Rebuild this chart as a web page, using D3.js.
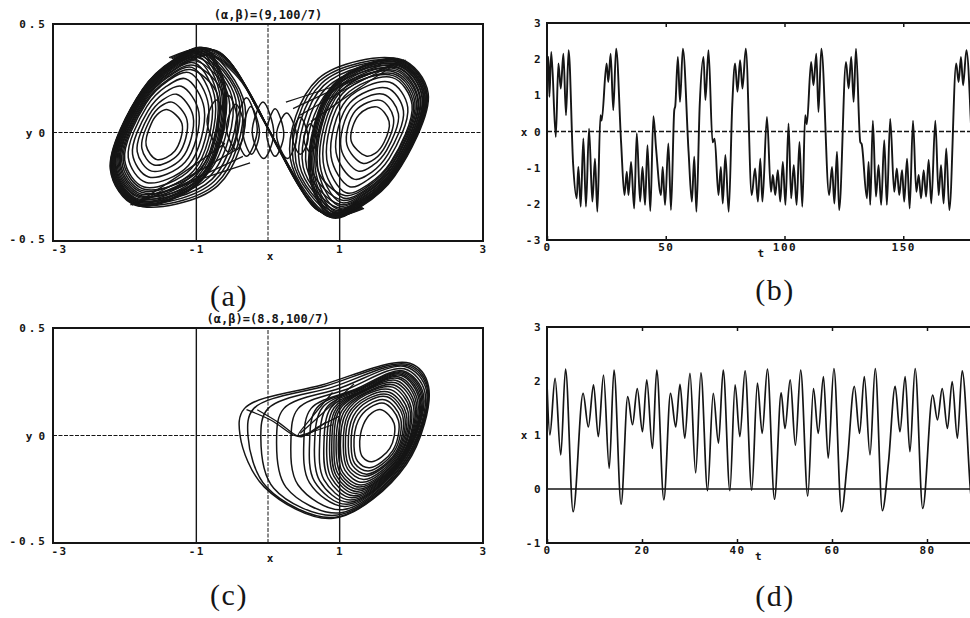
<!DOCTYPE html>
<html>
<head>
<meta charset="utf-8">
<script src="https://cdn.jsdelivr.net/npm/d3@7"></script>
<style>
  body { margin: 0; background: #fff; }
  svg { display: block; }
</style>
</head>
<body>
<svg id="fig" width="970" height="618"></svg>
<script>
// ---- text ----
const titleA = "(\u03b1,\u03b2)=(9,100/7)";
const titleC = "(\u03b1,\u03b2)=(8.8,100/7)";
const panelNames = ["(a)", "(b)", "(c)", "(d)"];

// ---- axis ticks ----
const phaseTicksX = [-3, -1, 1, 3];
const phaseTicksY = [0.5, 0, -0.5];
const phaseGridX = [-1, 0, 1];
const seriesBTicksY = [3, 2, 1, 0, -1, -2, -3];
const seriesBTicksT = [0, 50, 100, 150];
const seriesDTicksY = [3, 2, 1, 0, -1];
const seriesDTicksT = [0, 20, 40, 60, 80];

// ---- (b) x(t), local extrema ----
const tB = [0, 0.6, 1.0, 1.8, 3.7, 4.8, 5.8, 6.9, 8.0, 9.1, 11.0, 12.5, 13.2, 14.2, 15.3, 16.4, 17.7, 19.1, 20.2, 21.2,
  22.5, 23.0, 25.1, 25.8, 26.8, 27.9, 29.1, 31.2, 32.6, 33.6, 34.3, 35.4, 36.7, 37.8, 39.2, 40.2, 41.3, 42.3, 43.5, 44.8,
  45.9, 48.0, 48.7, 49.7, 51.1, 52.2, 53.6, 54.0, 55.1, 56.0, 57.2, 59.6, 61.0, 62.0, 62.9, 64.3, 65.9, 66.7, 68.0, 69.7,
  70.6, 72.2, 73.2, 74.0, 75.1, 76.5, 78.0, 79.2, 80.2, 81.3, 82.3, 83.7, 86.2, 87.6, 88.8, 89.8, 90.7, 92.6, 94.3, 95.1,
  96.1, 97.2, 98.2, 99.3, 100.4, 101.7, 102.8, 103.9, 105.1, 106.3, 107.5, 108.7, 109.4, 111.2, 112.2, 113.4, 114.3, 115.5, 118.8, 120.0,
  121.0, 122.1, 123.0, 125.9, 127.0, 128.1, 129.1, 130.1, 131.9, 132.5, 134.7, 135.4, 136.1, 137.2, 138.5, 139.6, 140.7, 142.0, 143.1, 144.5,
  146.2, 147.3, 148.3, 149.5, 150.4, 151.6, 152.7, 154.1, 155.5, 156.5, 157.5, 158.6, 159.6, 160.7, 161.8, 163.5, 164.9, 165.9, 167.0, 168.1,
  169.4, 172.3, 173.3, 174.3, 175.2, 176.6, 179.5, 181.0];
const xB = [1.9, 2.06, 0.96, 2.2, -0.15, 1.88, 1.19, 2.15, 0.45, 2.25, -0.9, -1.85, -0.98, -2.08, -0.19, -2.08, 0.08, -1.94, -0.75, -2.22,
  0.45, 0.3, 1.88, 1.37, 2.15, 0.59, 2.29, -0.3, -1.76, -1.11, -1.76, -0.84, -2.13, -0.05, -1.94, -0.98, -2.03, -0.38, -2.2, 0.42,
  -0.45, -1.76, -0.98, -2.03, -0.33, -2.17, 0.6, 0.7, 2.06, 0.82, 2.29, -0.55, -1.94, -0.7, -2.22, 0.73, 2.06, 0.87, 2.25, -0.3,
  -0.2, -1.76, -0.98, -1.99, -0.65, -2.22, 0.73, 1.88, 1.1, 1.97, 1.19, 2.29, -1.76, -1.02, -1.94, -0.75, -1.94, 0.4, -1.67, -1.2,
  -1.76, -1.07, -1.94, -0.84, -2.03, 0.22, -1.85, -0.93, -2.03, -0.29, -2.08, 0.45, 0.2, 1.92, 1.28, 2.15, 0.54, 2.29, -1.76, -0.98,
  -1.99, -0.56, -2.17, 1.92, 1.19, 2.06, 0.82, 2.29, -0.29, -0.35, -1.85, -0.84, -2.03, 0.3, -1.8, -0.93, -2.03, -0.24, -2.03, 0.35,
  -1.67, -1.02, -1.76, -1.07, -1.94, -0.75, -2.13, 0.3, -1.67, -1.2, -1.85, -1.07, -1.8, -0.79, -1.99, 0.3, -1.76, -0.93, -1.99, -0.47,
  -2.17, 1.88, 1.37, 2.06, 1.28, 2.25, -1.0, -1.8];

// ---- (d) x(t), local extrema ----
const tD = [0, 0.6, 1.7, 2.9, 3.9, 5.5, 7.6, 8.7, 9.8, 10.8, 11.9, 13.1, 14.1, 15.6, 17.0, 18.0, 19.0, 20.1, 21.0, 22.2,
  23.1, 24.6, 26.0, 27.1, 28.0, 29.0, 30.1, 31.3, 32.4, 33.8, 35.0, 36.1, 37.1, 38.5, 39.6, 40.6, 41.7, 43.1, 44.3, 45.3,
  46.4, 47.9, 49.3, 50.1, 51.2, 52.3, 53.4, 54.9, 56.1, 57.1, 58.2, 59.2, 60.4, 62.0, 63.2, 64.7, 65.8, 66.8, 68.0, 69.1,
  70.6, 71.9, 73.3, 74.3, 75.4, 76.4, 77.5, 79.1, 81.2, 82.2, 83.2, 84.3, 85.3, 86.4, 87.4, 89.6, 91.0];
const xD = [1.95, 1.0, 2.05, 0.63, 2.22, -0.42, 1.77, 1.15, 1.93, 0.97, 2.11, 0.38, 2.2, -0.28, 1.71, 1.19, 1.86, 1.06, 2.02, 0.75,
  2.2, -0.2, 1.77, 1.15, 1.94, 0.94, 2.14, 0.3, 2.15, -0.03, 1.77, 0.85, 2.2, -0.03, 1.93, 0.97, 2.19, -0.02, 1.96, 1.03,
  2.22, -0.19, 1.78, 1.12, 2.02, 0.81, 2.2, -0.13, 1.86, 1.03, 2.08, 0.57, 2.23, -0.42, 0.47, 1.9, 1.03, 2.08, 0.63, 2.23,
  -0.4, 0.5, 1.9, 1.06, 2.08, 0.69, 2.23, -0.36, 1.74, 1.28, 1.86, 1.12, 1.99, 0.94, 2.19, -0.3, 1.0];

// ---- (a) loops of the double scroll, (x, y) ----
const leftScrollA = [
  [[-1.70,-0.06],[-1.63,0.04],[-1.52,0.09],[-1.40,0.105],[-1.20,0.04],[-1.30,-0.085],[-1.55,-0.125]],
  [[-1.76,-0.073],[-1.645,0.06],[-1.50,0.12],[-1.34,0.14],[-1.13,0.057],[-1.25,-0.10],[-1.59,-0.15]],
  [[-1.825,-0.088],[-1.66,0.08],[-1.47,0.15],[-1.275,0.176],[-1.045,0.075],[-1.205,-0.12],[-1.625,-0.178]],
  [[-1.89,-0.10],[-1.675,0.10],[-1.445,0.183],[-1.21,0.213],[-0.965,0.093],[-1.155,-0.136],[-1.665,-0.205]],
  [[-1.95,-0.115],[-1.69,0.12],[-1.42,0.212],[-1.15,0.248],[-0.89,0.11],[-1.11,-0.152],[-1.70,-0.23]],
  [[-2.00,-0.126],[-1.70,0.136],[-1.40,0.237],[-1.10,0.276],[-0.83,0.124],[-1.07,-0.166],[-1.73,-0.251]],
  [[-2.04,-0.135],[-1.71,0.149],[-1.385,0.257],[-1.06,0.30],[-0.78,0.135],[-1.04,-0.177],[-1.755,-0.268]],
  [[-2.075,-0.143],[-1.72,0.16],[-1.37,0.274],[-1.025,0.32],[-0.735,0.145],[-1.015,-0.186],[-1.775,-0.283]],
  [[-2.105,-0.149],[-1.727,0.17],[-1.358,0.288],[-0.995,0.336],[-0.70,0.153],[-0.99,-0.194],[-1.795,-0.295]],
  [[-2.13,-0.155],[-1.733,0.178],[-1.348,0.30],[-0.97,0.35],[-0.667,0.16],[-0.973,-0.20],[-1.81,-0.306]],
  [[-2.15,-0.159],[-1.738,0.184],[-1.34,0.31],[-0.95,0.362],[-0.642,0.166],[-0.958,-0.207],[-1.82,-0.314]],
  [[-2.165,-0.162],[-1.742,0.189],[-1.334,0.318],[-0.935,0.37],[-0.623,0.17],[-0.947,-0.211],[-1.83,-0.32]],
  [[-2.18,-0.166],[-1.745,0.194],[-1.328,0.325],[-0.92,0.379],[-0.605,0.174],[-0.935,-0.215],[-1.838,-0.327]],
  [[-2.19,-0.168],[-1.748,0.197],[-1.324,0.33],[-0.91,0.384],[-0.592,0.177],[-0.928,-0.217],[-1.844,-0.331]],
  [[-2.20,-0.17],[-1.75,0.20],[-1.32,0.335],[-0.90,0.39],[-0.58,0.18],[-0.92,-0.22],[-1.85,-0.335]],
  [[-2.02,-0.13],[-1.71,0.14],[-1.39,0.245],[-1.08,0.29],[-0.70,0.17],[-0.95,-0.17],[-1.74,-0.26]],
  [[-2.06,-0.14],[-1.715,0.155],[-1.375,0.265],[-1.04,0.31],[-0.62,0.17],[-0.90,-0.185],[-1.765,-0.275]],
  [[-2.09,-0.145],[-1.725,0.165],[-1.36,0.28],[-1.01,0.33],[-0.55,0.165],[-0.86,-0.195],[-1.785,-0.29]],
  [[-2.12,-0.152],[-1.73,0.175],[-1.35,0.295],[-0.98,0.345],[-0.50,0.16],[-0.82,-0.205],[-1.80,-0.30]],
  [[-2.14,-0.157],[-1.735,0.182],[-1.342,0.305],[-0.96,0.357],[-0.45,0.15],[-0.78,-0.215],[-1.815,-0.31]],
  [[-2.16,-0.16],[-1.74,0.187],[-1.336,0.315],[-0.94,0.367],[-0.40,0.14],[-0.75,-0.225],[-1.825,-0.318]],
  [[-2.175,-0.164],[-1.744,0.192],[-1.33,0.322],[-0.925,0.375],[-0.36,0.13],[-0.72,-0.235],[-1.835,-0.325]],
  [[-2.195,-0.169],[-1.749,0.198],[-1.322,0.332],[-0.905,0.386],[-0.32,0.12],[-0.70,-0.245],[-1.848,-0.333]]
];
const rightScrollA = [
  [[1.69,0.05],[1.62,-0.045],[1.50,-0.095],[1.37,-0.108],[1.16,-0.038],[1.27,0.082],[1.52,0.118]],
  [[1.75,0.07],[1.64,-0.062],[1.49,-0.122],[1.32,-0.142],[1.10,-0.055],[1.22,0.10],[1.57,0.148]],
  [[1.82,0.086],[1.655,-0.082],[1.46,-0.152],[1.26,-0.178],[1.02,-0.074],[1.18,0.12],[1.61,0.176]],
  [[1.89,0.10],[1.675,-0.10],[1.44,-0.185],[1.20,-0.215],[0.95,-0.092],[1.14,0.136],[1.66,0.205]],
  [[1.95,0.116],[1.69,-0.12],[1.41,-0.214],[1.14,-0.25],[0.88,-0.11],[1.10,0.152],[1.70,0.232]],
  [[2.01,0.128],[1.71,-0.138],[1.395,-0.24],[1.09,-0.278],[0.82,-0.125],[1.065,0.167],[1.735,0.253]],
  [[2.05,0.138],[1.72,-0.15],[1.38,-0.26],[1.05,-0.302],[0.77,-0.136],[1.035,0.178],[1.76,0.27]],
  [[2.09,0.147],[1.73,-0.162],[1.365,-0.276],[1.015,-0.322],[0.725,-0.146],[1.01,0.188],[1.78,0.285]],
  [[2.12,0.154],[1.74,-0.172],[1.355,-0.29],[0.985,-0.338],[0.69,-0.154],[0.985,0.196],[1.80,0.298]],
  [[2.15,0.16],[1.745,-0.18],[1.345,-0.302],[0.96,-0.352],[0.657,-0.161],[0.968,0.202],[1.815,0.308]],
  [[2.17,0.165],[1.75,-0.186],[1.338,-0.312],[0.94,-0.364],[0.632,-0.167],[0.953,0.209],[1.826,0.316]],
  [[2.19,0.17],[1.755,-0.191],[1.332,-0.32],[0.925,-0.372],[0.613,-0.171],[0.942,0.213],[1.835,0.322]],
  [[2.205,0.174],[1.758,-0.196],[1.326,-0.327],[0.91,-0.381],[0.595,-0.175],[0.93,0.217],[1.843,0.329]],
  [[2.22,0.177],[1.762,-0.199],[1.322,-0.332],[0.90,-0.386],[0.582,-0.178],[0.923,0.219],[1.85,0.333]],
  [[2.235,0.18],[1.765,-0.202],[1.318,-0.337],[0.89,-0.392],[0.57,-0.181],[0.915,0.222],[1.857,0.337]],
  [[2.03,0.132],[1.715,-0.142],[1.385,-0.25],[1.07,-0.29],[0.69,-0.168],[0.945,0.172],[1.745,0.262]],
  [[2.07,0.142],[1.72,-0.157],[1.37,-0.268],[1.035,-0.312],[0.61,-0.168],[0.895,0.186],[1.77,0.278]],
  [[2.10,0.148],[1.73,-0.167],[1.355,-0.283],[1.005,-0.332],[0.54,-0.162],[0.855,0.196],[1.79,0.292]],
  [[2.13,0.155],[1.735,-0.176],[1.345,-0.297],[0.975,-0.347],[0.49,-0.158],[0.815,0.206],[1.805,0.302]],
  [[2.155,0.16],[1.74,-0.183],[1.34,-0.307],[0.955,-0.359],[0.44,-0.148],[0.775,0.216],[1.82,0.312]],
  [[2.175,0.165],[1.745,-0.188],[1.334,-0.317],[0.935,-0.369],[0.39,-0.138],[0.745,0.226],[1.83,0.32]],
  [[2.19,0.169],[1.748,-0.193],[1.328,-0.324],[0.92,-0.377],[0.35,-0.128],[0.715,0.236],[1.84,0.326]],
  [[2.215,0.175],[1.752,-0.199],[1.32,-0.334],[0.90,-0.388],[0.31,-0.118],[0.695,0.246],[1.852,0.334]]
];
const middleLoopsA = [
  [[-0.85,0.05],[-0.72,0.15],[-0.60,0.06],[-0.70,-0.06]],
  [[-0.70,0.03],[-0.55,0.17],[-0.42,0.04],[-0.55,-0.09]],
  [[-0.58,0.02],[-0.45,0.13],[-0.33,0.02],[-0.44,-0.08]],
  [[-0.45,0.01],[-0.30,0.16],[-0.15,0.01],[-0.30,-0.11]],
  [[-0.35,0.0],[-0.24,0.12],[-0.12,0.0],[-0.23,-0.10]],
  [[-0.22,0.0],[-0.07,0.14],[0.08,-0.005],[-0.06,-0.12]],
  [[-0.02,-0.005],[0.10,0.11],[0.22,-0.01],[0.10,-0.11]],
  [[0.12,-0.01],[0.26,0.09],[0.40,-0.02],[0.27,-0.12]],
  [[0.34,-0.02],[0.45,0.07],[0.56,-0.03],[0.45,-0.10]],
  [[0.50,-0.03],[0.59,0.04],[0.68,-0.04],[0.59,-0.09]]
];
const crossBandA = [
  [[-1.30,0.335],[-0.90,0.39],[-0.55,0.33],[-0.25,0.18],[0.05,-0.01],[0.35,-0.19],[0.62,-0.33],[0.90,-0.39],[1.30,-0.34]],
  [[-1.28,0.33],[-0.88,0.383],[-0.53,0.318],[-0.22,0.16],[0.08,-0.03],[0.37,-0.21],[0.64,-0.34],[0.91,-0.385],[1.29,-0.335]],
  [[-1.26,0.325],[-0.86,0.375],[-0.50,0.30],[-0.19,0.135],[0.11,-0.05],[0.40,-0.23],[0.66,-0.35],[0.92,-0.38],[1.28,-0.33]],
  [[-1.24,0.32],[-0.85,0.366],[-0.47,0.285],[-0.15,0.11],[0.14,-0.07],[0.43,-0.245],[0.68,-0.355],[0.93,-0.376],[1.27,-0.325]],
  [[-1.32,0.338],[-0.92,0.392],[-0.58,0.342],[-0.29,0.20],[0.01,0.015],[0.32,-0.17],[0.60,-0.32],[0.89,-0.392],[1.31,-0.342]],
  [[-1.34,0.34],[-0.94,0.39],[-0.61,0.35],[-0.33,0.225],[-0.03,0.04],[0.28,-0.15],[0.58,-0.31],[0.88,-0.39],[1.32,-0.345]],
  [[-1.36,0.342],[-0.96,0.388],[-0.64,0.36],[-0.38,0.25],[-0.08,0.07],[0.24,-0.13],[0.55,-0.30],[0.87,-0.388],[1.33,-0.348]],
  [[-1.22,0.315],[-0.84,0.36],[-0.44,0.27],[-0.11,0.085],[0.18,-0.09],[0.46,-0.26],[0.70,-0.36],[0.94,-0.372],[1.26,-0.32]],
  [[-1.20,0.31],[-0.83,0.355],[-0.41,0.25],[-0.07,0.06],[0.22,-0.11],[0.49,-0.27],[0.72,-0.362],[0.95,-0.37],[1.25,-0.315]],
  [[-1.38,0.345],[-0.98,0.386],[-0.67,0.37],[-0.42,0.27],[-0.12,0.09],[0.20,-0.11],[0.52,-0.29],[0.86,-0.386],[1.34,-0.35]]
];
const fanLinesA = [
  [[1.90,0.335],[1.20,0.24],[0.35,0.11]],
  [[1.88,0.333],[1.20,0.22],[0.45,0.08]],
  [[1.86,0.332],[1.25,0.20],[0.60,0.05]],
  [[1.92,0.334],[1.25,0.25],[0.25,0.14]],
  [[-1.90,-0.335],[-1.20,-0.24],[-0.35,-0.11]],
  [[-1.88,-0.333],[-1.20,-0.22],[-0.45,-0.08]],
  [[-1.86,-0.332],[-1.25,-0.20],[-0.60,-0.05]],
  [[-1.92,-0.334],[-1.25,-0.25],[-0.25,-0.14]]
];

// ---- (c) loops of the single scroll ----
const scrollC = [
  [[1.28,-0.05],[1.33,0.05],[1.45,0.105],[1.58,0.12],[1.76,0.056],[1.70,-0.06],[1.45,-0.122],[1.32,-0.10]],
  [[1.20,-0.05],[1.26,0.07],[1.42,0.13],[1.62,0.15],[1.82,0.07],[1.74,-0.07],[1.42,-0.15],[1.25,-0.12]],
  [[1.16,-0.05],[1.22,0.08],[1.41,0.145],[1.64,0.165],[1.85,0.08],[1.76,-0.075],[1.40,-0.165],[1.21,-0.13]],
  [[1.12,-0.05],[1.19,0.09],[1.40,0.16],[1.66,0.18],[1.88,0.09],[1.78,-0.08],[1.38,-0.18],[1.18,-0.14]],
  [[1.08,-0.05],[1.15,0.095],[1.39,0.17],[1.68,0.19],[1.905,0.095],[1.79,-0.085],[1.36,-0.19],[1.14,-0.148]],
  [[1.05,-0.05],[1.12,0.10],[1.38,0.18],[1.70,0.20],[1.93,0.10],[1.80,-0.09],[1.34,-0.205],[1.11,-0.155]],
  [[1.01,-0.047],[1.09,0.105],[1.37,0.19],[1.72,0.212],[1.955,0.11],[1.81,-0.095],[1.32,-0.218],[1.075,-0.162]],
  [[0.98,-0.045],[1.06,0.11],[1.36,0.195],[1.74,0.225],[1.98,0.12],[1.82,-0.10],[1.30,-0.23],[1.04,-0.17]],
  [[0.95,-0.045],[1.03,0.115],[1.36,0.20],[1.76,0.235],[2.00,0.128],[1.83,-0.102],[1.28,-0.24],[1.01,-0.175]],
  [[0.92,-0.045],[1.00,0.12],[1.35,0.205],[1.78,0.245],[2.03,0.135],[1.84,-0.105],[1.26,-0.25],[0.98,-0.18]],
  [[0.89,-0.042],[0.975,0.122],[1.345,0.208],[1.80,0.255],[2.05,0.142],[1.845,-0.108],[1.24,-0.26],[0.95,-0.185]],
  [[0.86,-0.04],[0.95,0.125],[1.34,0.21],[1.82,0.265],[2.07,0.15],[1.85,-0.11],[1.22,-0.27],[0.92,-0.19]],
  [[0.82,-0.04],[0.92,0.128],[1.33,0.21],[1.83,0.272],[2.09,0.158],[1.855,-0.112],[1.20,-0.28],[0.88,-0.195]],
  [[0.78,-0.04],[0.88,0.13],[1.32,0.21],[1.85,0.28],[2.11,0.165],[1.86,-0.115],[1.17,-0.29],[0.84,-0.20]],
  [[0.72,-0.038],[0.82,0.13],[1.30,0.213],[1.86,0.285],[2.125,0.172],[1.865,-0.118],[1.15,-0.30],[0.78,-0.205]],
  [[0.65,-0.035],[0.76,0.13],[1.28,0.215],[1.87,0.29],[2.14,0.18],[1.87,-0.12],[1.12,-0.31],[0.72,-0.21]],
  [[0.58,-0.032],[0.68,0.128],[1.25,0.215],[1.88,0.295],[2.155,0.185],[1.875,-0.12],[1.10,-0.32],[0.65,-0.215]],
  [[0.50,-0.03],[0.60,0.125],[1.22,0.215],[1.89,0.30],[2.17,0.19],[1.88,-0.12],[1.08,-0.33],[0.58,-0.22]],
  [[0.32,-0.025],[0.42,0.125],[1.10,0.215],[1.90,0.31],[2.19,0.20],[1.89,-0.125],[1.04,-0.345],[0.42,-0.23]],
  [[0.12,-0.02],[0.22,0.125],[1.00,0.22],[1.92,0.32],[2.21,0.21],[1.90,-0.125],[1.00,-0.36],[0.25,-0.24]],
  [[-0.10,-0.01],[0.00,0.125],[0.90,0.225],[1.94,0.325],[2.22,0.22],[1.91,-0.13],[0.97,-0.37],[0.08,-0.245]],
  [[-0.28,0.0],[-0.20,0.125],[0.80,0.23],[1.96,0.33],[2.23,0.225],[1.92,-0.13],[0.94,-0.38],[-0.02,-0.24]],
  [[-0.39,0.0],[-0.33,0.125],[0.75,0.235],[1.98,0.336],[2.24,0.228],[1.93,-0.135],[0.91,-0.385],[-0.05,-0.24]]
];
const foldC = [
  [[-0.30,0.12],[0.05,0.07],[0.37,0.0],[0.48,-0.005],[0.70,0.04],[1.00,0.09]],
  [[-0.15,0.12],[0.15,0.06],[0.40,0.0],[0.52,0.0],[0.80,0.06]],
  [[0.90,0.20],[0.60,0.08],[0.42,0.0],[0.55,0.01],[0.90,0.05]],
  [[1.20,0.24],[0.75,0.10],[0.45,0.01]]
];

// ---------------------------------------------------------------
const svg = d3.select("#fig");
const ink = "#151515";
const mono = "'DejaVu Sans Mono', monospace";

const boxA = {left: 53, right: 483, top: 24, bottom: 241};
const boxC = {left: 53, right: 483, top: 328, bottom: 543};
const boxB = {left: 547, right: 1022, top: 23, bottom: 240};
const boxD = {left: 547, right: 1022, top: 327, bottom: 543};

function styleAxis(sel, ls) {
  sel.select(".domain").remove();
  sel.selectAll(".tick line").attr("stroke", ink).attr("stroke-width", 1.5);
  sel.selectAll("text")
    .attr("font-family", mono)
    .attr("font-size", 11)
    .attr("font-weight", "bold")
    .attr("fill", ink)
    .attr("letter-spacing", ls);
}

function label(g, x, y, txt, size) {
  g.append("text").attr("x", x).attr("y", y)
    .attr("text-anchor", "middle").attr("font-family", mono)
    .attr("font-size", size || 11).attr("font-weight", "bold").attr("fill", ink).text(txt);
}

function frame(g, box) {
  g.append("rect")
    .attr("x", box.left).attr("y", box.top)
    .attr("width", box.right - box.left).attr("height", box.bottom - box.top)
    .attr("fill", "none").attr("stroke", ink).attr("stroke-width", 2);
}

function phasePanel(box, title, closedSets, openSets) {
  const x = d3.scaleLinear().domain([-3, 3]).range([box.left, box.right]);
  const y = d3.scaleLinear().domain([-0.5, 0.5]).range([box.bottom, box.top]);
  const g = svg.append("g");

  g.selectAll(".gx").data(phaseGridX).join("line")
    .attr("x1", d => x(d)).attr("x2", d => x(d))
    .attr("y1", y(-0.5)).attr("y2", y(0.5))
    .attr("stroke", ink).attr("stroke-width", d => d === 0 ? 1 : 1.4)
    .attr("stroke-dasharray", d => d === 0 ? "4,1.5" : null);
  g.append("line")
    .attr("x1", x(-3)).attr("x2", x(3)).attr("y1", y(0)).attr("y2", y(0))
    .attr("stroke", ink).attr("stroke-width", 1.2).attr("stroke-dasharray", "4,1.5");

  const closed = d3.line().x(d => x(d[0])).y(d => y(d[1])).curve(d3.curveCatmullRomClosed.alpha(0.5));
  const open = d3.line().x(d => x(d[0])).y(d => y(d[1])).curve(d3.curveCatmullRom.alpha(0.5));

  closedSets.forEach(set => {
    g.append("g").selectAll("path").data(set).join("path")
      .attr("d", closed).attr("fill", "none").attr("stroke", ink).attr("stroke-width", 1.5);
  });
  openSets.forEach(set => {
    g.append("g").selectAll("path").data(set).join("path")
      .attr("d", open).attr("fill", "none").attr("stroke", ink).attr("stroke-width", 1.3);
  });

  frame(g, box);

  // x tick labels; the -3 at the corner sits a little right, clear of -0.5
  g.append("g").attr("transform", `translate(0,${box.bottom})`)
    .call(d3.axisBottom(x).tickValues(phaseTicksX).tickSize(0).tickPadding(4).tickFormat(d => String(d)))
    .call(s => styleAxis(s, 1.5))
    .selectAll("text").attr("dx", d => d === -3 ? 6 : 0);
  g.append("g").attr("transform", `translate(${box.left},0)`)
    .call(d3.axisLeft(y).tickValues(phaseTicksY).tickSize(0).tickPadding(5).tickFormat(d => String(d)))
    .call(s => styleAxis(s, 3))
    .selectAll("text").attr("dy", d => d === -0.5 ? "0.1em" : "0.32em");

  label(g, x(0) + 2, box.bottom + 19, "x");
  label(g, box.left - 24, y(0) + 4, "y");
  label(g, x(0), box.top - 5, title, 12);
}

function seriesPanel(box, tMax, yDomain, tTicks, yTicks, ts, xs, tLabelAt, dashedZero, width) {
  const t = d3.scaleLinear().domain([0, tMax]).range([box.left, box.right]);
  const y = d3.scaleLinear().domain(yDomain).range([box.bottom, box.top]);
  const g = svg.append("g");

  g.append("line")
    .attr("x1", t(0)).attr("x2", t(tMax)).attr("y1", y(0)).attr("y2", y(0))
    .attr("stroke", ink).attr("stroke-width", 1.3)
    .attr("stroke-dasharray", dashedZero ? "5,2" : null);

  const line = d3.line().x(d => t(d[0])).y(d => y(d[1])).curve(d3.curveMonotoneX);
  g.append("path").datum(ts.map((v, i) => [v, xs[i]]))
    .attr("d", line).attr("fill", "none").attr("stroke", ink).attr("stroke-width", width)
    .attr("stroke-linejoin", "round");

  frame(g, box);

  g.append("g").attr("transform", `translate(0,${box.bottom})`)
    .call(d3.axisBottom(t).tickValues(tTicks).tickSizeInner(-4).tickSizeOuter(0).tickPadding(3).tickFormat(d => String(d)))
    .call(s => styleAxis(s, 1.5));
  g.append("g").attr("transform", `translate(0,${box.top})`)
    .call(d3.axisTop(t).tickValues(tTicks.filter(d => d > 0)).tickSizeInner(-4).tickSizeOuter(0).tickFormat(""))
    .call(s => styleAxis(s, 0));
  g.append("g").attr("transform", `translate(${box.left},0)`)
    .call(d3.axisLeft(y).tickValues(yTicks).tickSize(0).tickPadding(5).tickFormat(d => String(d)))
    .call(s => styleAxis(s, 1.5));

  const xLabelAt = yDomain[0] === -1 ? 1 : 0;
  label(g, box.left - 23, y(xLabelAt) + 4, "x");
  label(g, t(tLabelAt), box.bottom + 17, "t");
}

phasePanel(boxA, titleA, [leftScrollA, rightScrollA, middleLoopsA], [crossBandA, fanLinesA]);
phasePanel(boxC, titleC, [scrollC], [foldC]);
seriesPanel(boxB, 200, [-3, 3], seriesBTicksT, seriesBTicksY, tB, xB, 90, true, 1.9);
seriesPanel(boxD, 100, [-1, 3], seriesDTicksT, seriesDTicksY, tD, xD, 44.5, false, 1.7);

// panel captions
const captionPos = [[229, 306], [775, 300], [229, 605], [775, 606]];
svg.selectAll(".caption").data(panelNames).join("text")
  .attr("class", "caption")
  .attr("x", (d, i) => captionPos[i][0]).attr("y", (d, i) => captionPos[i][1])
  .attr("text-anchor", "middle")
  .attr("font-family", "'Liberation Serif', 'DejaVu Serif', serif")
  .attr("font-size", 30).attr("letter-spacing", 1.5).attr("fill", ink)
  .text(d => d);
</script>
</body>
</html>
